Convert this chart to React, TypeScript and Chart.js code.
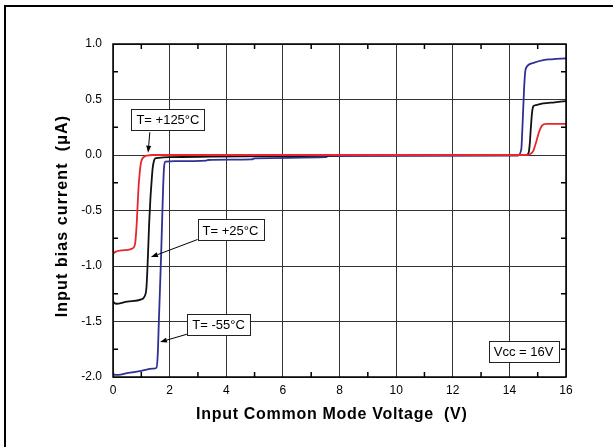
import React, { useEffect, useRef } from "react";
import { Chart, registerables } from "chart.js";

Chart.register(...registerables);

// ---- data ----
const xTicks = [0, 2, 4, 6, 8, 10, 12, 14, 16];
const yTicks = [-2.0, -1.5, -1.0, -0.5, 0.0, 0.5, 1.0];

const vRed = [0, 0.1, 0.3, 0.5, 0.7, 0.78, 0.83, 0.87, 0.9, 0.94, 0.98, 1.03, 1.1, 1.2, 1.4, 2, 4, 8, 12, 14.6, 14.75, 14.85, 14.95, 15.05, 15.15, 15.3, 16];
const iRed = [-0.89, -0.87, -0.86, -0.855, -0.84, -0.8, -0.65, -0.45, -0.3, -0.17, -0.08, -0.035, -0.015, -0.005, 0, 0, 0, 0, 0, 0, 0.01, 0.04, 0.12, 0.21, 0.265, 0.28, 0.28];

const vBlack = [0, 0.1, 0.5, 1.0, 1.1, 1.18, 1.22, 1.25, 1.28, 1.32, 1.36, 1.4, 1.45, 1.5, 1.6, 2, 3.5, 5.5, 7.7, 8, 12, 14.6, 14.68, 14.72, 14.76, 14.8, 14.85, 14.95, 15.2, 15.6, 16];
const iBlack = [-1.32, -1.34, -1.32, -1.3, -1.28, -1.2, -1.0, -0.8, -0.6, -0.4, -0.25, -0.12, -0.05, -0.03, -0.025, -0.02, -0.015, -0.01, -0.005, 0, 0, 0, 0.02, 0.1, 0.25, 0.38, 0.44, 0.45, 0.465, 0.475, 0.485];

const vBlue = [0, 0.05, 0.19, 0.5, 1.0, 1.4, 1.54, 1.58, 1.62, 1.66, 1.7, 1.74, 1.77, 1.8, 1.85, 2.2, 3.3, 3.35, 4.9, 5.0, 7.5, 7.6, 14.3, 14.42, 14.47, 14.52, 14.56, 14.6, 14.85, 15.2, 15.5, 16];
const iBlue = [-1.96, -1.98, -1.98, -1.965, -1.945, -1.925, -1.915, -1.8, -1.5, -1.2, -0.9, -0.55, -0.3, -0.12, -0.06, -0.055, -0.05, -0.045, -0.04, -0.03, -0.02, -0.01, -0.005, 0.05, 0.3, 0.6, 0.75, 0.79, 0.83, 0.855, 0.862, 0.87];

const seriesNames = ["T= +125°C", "T= +25°C", "T= -55°C"];

const FONT = "'Liberation Sans', Arial, Helvetica, sans-serif";

const toPts = (xs: number[], ys: number[]) => xs.map((x, i) => ({ x, y: ys[i] }));

// annotation boxes: text, center (data coords), optional arrow from -> to (data coords)
const annotations = [
  { text: seriesNames[0], cx: 1.94, cy: 0.32, from: [1.3, 0.205], to: [1.24, 0.02] },
  { text: seriesNames[1], cx: 4.15, cy: -0.675, from: [3.0, -0.76], to: [1.34, -0.92] },
  { text: seriesNames[2], cx: 3.73, cy: -1.53, from: [2.61, -1.615], to: [1.66, -1.685] },
  { text: "Vcc = 16V", cx: 14.5, cy: -1.77, from: null, to: null },
];

// widen the axis-title lettering slightly, as in the reference
const spacedTitle = (spacing: string) => (s: any) => {
  if (!s.__spaced) {
    const orig = s.drawTitle.bind(s);
    s.drawTitle = function () {
      const c = s.ctx as any;
      const prev = c.letterSpacing;
      c.letterSpacing = spacing;
      orig();
      c.letterSpacing = prev || "0px";
    };
    s.__spaced = true;
  }
};

const framePlugin = {
  id: "framePlugin",
  afterDraw(chart: any) {
    const { ctx, chartArea: a, scales } = chart;
    const xs = scales.x;
    const ys = scales.y;
    ctx.save();
    // border
    ctx.strokeStyle = "#000";
    ctx.lineWidth = 1.5;
    ctx.strokeRect(a.left, a.top, a.right - a.left, a.bottom - a.top);
    // minor ticks
    ctx.lineWidth = 1.5;
    ctx.beginPath();
    for (let v = 1; v < 16; v += 2) {
      const px = xs.getPixelForValue(v);
      ctx.moveTo(px, a.bottom);
      ctx.lineTo(px, a.bottom - 5);
      ctx.moveTo(px, a.top);
      ctx.lineTo(px, a.top + 5);
    }
    for (let v = -1.75; v < 1; v += 0.5) {
      const py = ys.getPixelForValue(v);
      ctx.moveTo(a.left, py);
      ctx.lineTo(a.left + 5, py);
      ctx.moveTo(a.right, py);
      ctx.lineTo(a.right - 5, py);
    }
    ctx.stroke();

    // annotations
    ctx.font = `13px ${FONT}`;
    ctx.textAlign = "center";
    ctx.textBaseline = "middle";
    for (const an of annotations) {
      if (an.from && an.to) {
        const x1 = xs.getPixelForValue(an.from[0]);
        const y1 = ys.getPixelForValue(an.from[1]);
        const x2 = xs.getPixelForValue(an.to[0]);
        const y2 = ys.getPixelForValue(an.to[1]);
        const ang = Math.atan2(y2 - y1, x2 - x1);
        const hl = 7;
        const hw = 2.5;
        const bx = x2 - hl * Math.cos(ang);
        const by = y2 - hl * Math.sin(ang);
        ctx.strokeStyle = "#000";
        ctx.lineWidth = 1;
        ctx.beginPath();
        ctx.moveTo(x1, y1);
        ctx.lineTo(bx, by);
        ctx.stroke();
        ctx.fillStyle = "#000";
        ctx.beginPath();
        ctx.moveTo(x2, y2);
        ctx.lineTo(bx + hw * Math.sin(ang), by - hw * Math.cos(ang));
        ctx.lineTo(bx - hw * Math.sin(ang), by + hw * Math.cos(ang));
        ctx.closePath();
        ctx.fill();
      }
      const cx = xs.getPixelForValue(an.cx);
      const cy = ys.getPixelForValue(an.cy);
      const w = ctx.measureText(an.text).width + 10;
      const h = 21;
      ctx.fillStyle = "#fff";
      ctx.fillRect(cx - w / 2, cy - h / 2, w, h);
      ctx.strokeStyle = "#222";
      ctx.lineWidth = 1;
      ctx.strokeRect(Math.round(cx - w / 2) + 0.5, Math.round(cy - h / 2) + 0.5, Math.round(w), h);
      ctx.fillStyle = "#000";
      ctx.fillText(an.text, cx, cy + 1);
    }
    ctx.restore();
  },
};

export default function App() {
  const ref = useRef<HTMLCanvasElement | null>(null);

  useEffect(() => {
    if (!ref.current) return;
    const chart = new Chart(ref.current, {
      type: "line",
      data: {
        datasets: [
          { label: seriesNames[0], data: toPts(vRed, iRed), borderColor: "#e8262d" },
          { label: seriesNames[1], data: toPts(vBlack, iBlack), borderColor: "#111111" },
          { label: seriesNames[2], data: toPts(vBlue, iBlue), borderColor: "#2e3192" },
        ].map((d) => ({
          ...d,
          borderWidth: 1.8,
          pointRadius: 0,
          fill: false,
          cubicInterpolationMode: "monotone" as const,
        })),
      },
      options: {
        responsive: false,
        animation: false,
        devicePixelRatio: 1,
        layout: { padding: { top: 44, right: 47, left: 0, bottom: 0 } },
        plugins: { legend: { display: false }, tooltip: { enabled: false } },
        scales: {
          x: {
            type: "linear",
            min: 0,
            max: 16,
            afterBuildTicks: (s: any) => {
              s.ticks = xTicks.map((v) => ({ value: v }));
            },
            afterFit: (s: any) => {
              s.height = 70;
              spacedTitle("0.7px")(s);
            },
            ticks: {
              font: { family: FONT, size: 12 },
              color: "#000",
              padding: 6,
              maxRotation: 0,
              callback: (v: any) => String(v),
            },
            grid: { color: "#333", lineWidth: 1, drawTicks: false },
            border: { display: false },
            title: {
              display: true,
              text: "Input Common Mode Voltage  (V)\u00a0\u00a0\u00a0",
              font: { family: FONT, size: 16, weight: "bold" },
              color: "#000",
              padding: { top: 0, bottom: 23 },
            },
          },
          y: {
            type: "linear",
            min: -2,
            max: 1,
            afterBuildTicks: (s: any) => {
              s.ticks = yTicks.map((v) => ({ value: v }));
            },
            afterFit: (s: any) => {
              s.width = 113;
              spacedTitle("1.1px")(s);
            },
            ticks: {
              font: { family: FONT, size: 12 },
              color: "#000",
              padding: 11,
              callback: (v: any) => Number(v).toFixed(1),
            },
            grid: { color: "#333", lineWidth: 1, drawTicks: false },
            border: { display: false },
            title: {
              display: true,
              text: "Input bias current  (\u03bcA)\u00a0\u00a0",
              font: { family: FONT, size: 16, weight: "bold" },
              color: "#000",
              padding: { top: 53, bottom: 0 },
            },
          },
        },
      },
      plugins: [framePlugin],
    });
    return () => chart.destroy();
  }, []);

  return (
    <div
      style={{
        position: "fixed",
        left: 0,
        top: 0,
        width: 613,
        height: 447,
        overflow: "hidden",
        background: "#fff",
      }}
    >
      <div
        style={{
          position: "absolute",
          left: 4,
          top: 5,
          width: 800,
          height: 800,
          borderLeft: "2px solid #000",
          borderTop: "2px solid #000",
        }}
      />
      <canvas ref={ref} width={613} height={447} style={{ position: "absolute", left: 0, top: 0 }} />
    </div>
  );
}
